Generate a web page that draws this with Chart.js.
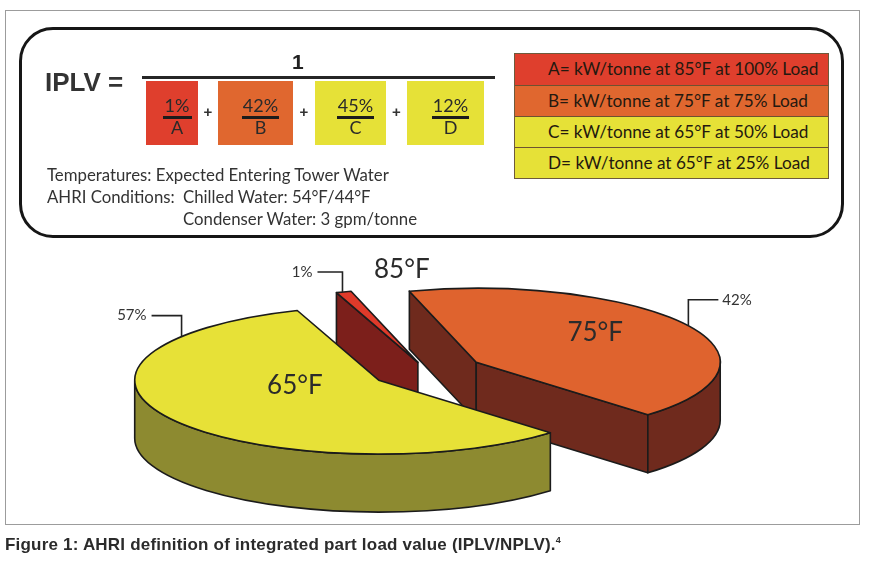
<!DOCTYPE html>
<html>
<head>
<meta charset="utf-8">
<script src="https://cdn.jsdelivr.net/npm/chart.js@4.4.1/dist/chart.umd.min.js"></script>
<style>
  html, body { margin: 0; padding: 0; background: #fff; }
  body { width: 874px; height: 561px; position: relative; overflow: hidden;
         font-family: Lato, "Open Sans", sans-serif; color: #353535; }
  .abs { position: absolute; }
  #frame { left: 5px; top: 10px; width: 853px; height: 513px; border: 1.5px solid #9c9c9c; }
  #pie { position: absolute; left: 0; top: 0; }
  #box { left: 19px; top: 27px; width: 819px; height: 205px; border: 3.5px solid #161616; border-radius: 34px; }
  #iplv { left: 45px; top: 67px; font: bold 26px "Liberation Sans", Arial, sans-serif; color: #333; line-height: 30px; }
  #one { left: 292px; top: 50px; font: bold 21px "Liberation Sans", Arial, sans-serif; color: #222; line-height: 24px; }
  #bar { left: 142px; top: 76px; width: 353px; height: 2.5px; background: #262626; }
  .term { top: 81px; height: 64px; }
  .term .num, .term .den { position: absolute; left: 10px; right: 0; text-align: center;
         font-size: 18px; line-height: 18px; color: #2a2a2a; }
  .term .num { top: 15px; }
  .term .den { top: 37px; }
  .term .rule { position: absolute; top: 35px; height: 2.5px; background: #1c1c1c; }
  .plus { top: 103px; font: bold 15px "Liberation Sans", Arial, sans-serif; color: #333; }
  #legendTable { left: 514px; top: 53px; width: 313px; border: 1px solid #6e5a3c; }
  .row { height: 31px; box-sizing: border-box; border-top: 1.5px solid #6e5230; padding-left: 33px;
         font-size: 17.2px; line-height: 30px; color: #24190f; white-space: nowrap; }
  .row:first-child { border-top: none; }
  .cond { left: 47px; font-size: 16.8px; line-height: 20px; color: #333; white-space: nowrap; }
  .cond .lab { display: inline-block; width: 136px; }
  #caption { left: 5px; top: 535px; font: bold 17px "Liberation Sans", Arial, sans-serif; letter-spacing: 0.2px;
             color: #2b2b2b; white-space: nowrap; }
  #caption sup { font-size: 9px; vertical-align: 7px; }
</style>
</head>
<body>
<div id="frame" class="abs"></div>
<canvas id="pie" width="874" height="561"></canvas>
<div id="box" class="abs"></div>
<div id="iplv" class="abs">IPLV =</div>
<div id="one" class="abs">1</div>
<div id="bar" class="abs"></div>
<div id="terms"></div>
<div id="legendTable" class="abs"></div>
<div class="abs cond" style="top:165px">Temperatures: Expected Entering Tower Water</div>
<div class="abs cond" style="top:187px"><span class="lab">AHRI Conditions:</span>Chilled Water: 54°F/44°F</div>
<div class="abs cond" style="top:209px"><span class="lab"></span>Condenser Water: 3 gpm/tonne</div>
<div id="caption" class="abs">Figure 1: AHRI definition of integrated part load value (IPLV/NPLV).<sup>4</sup></div>

<script>
// pie slices
const sliceLabels = ['85°F', '75°F', '65°F'];
const sliceShares = [1, 42, 57];

// IPLV formula terms and the A-D table
const loadLetters = ['A', 'B', 'C', 'D'];
const loadWeights = [1, 42, 45, 12];
const loadTemps = ['85°F', '75°F', '65°F', '65°F'];
const loadPercents = [100, 75, 50, 25];

// look
const termColors = ['#df3f2d', '#e0672f', '#e6e137', '#e6e137'];
const termBoxes = [[146, 52], [218, 75], [315, 71], [407, 77]]; // left, width
const topColors = ['#df3a2a', '#df632e', '#e7e137'];
const sideColors = ['#7c1f1b', '#6f2a1d', '#8d8a30'];
const TILT = 0.303;          // ry / rx of the pie top
const DEPTH = 58;            // thickness of the pie
const EXPLODE = [30, 57, 57];
const EDGE = '#1b1b1b';
// label anchors per slice: [angle deg, radius fraction]
const NAME_POS = [[-93, 1.26], [-39.7, 0.634], [168.8, 0.35]];
// share leaders: [angle deg on rim, rise, run]
const LEADERS = [[-108, -20, -25], [-29.6, -26, 30], [-143.9, -21, -30]];

// formula boxes
const terms = document.getElementById('terms');
loadLetters.forEach((l, i) => {
  const [left, w] = termBoxes[i];
  const t = document.createElement('div');
  t.className = 'abs term';
  t.style.left = left + 'px';
  t.style.width = w + 'px';
  t.style.background = termColors[i];
  const ruleW = i === 0 ? 29 : 37;
  t.innerHTML = `<div class="num">${loadWeights[i]}%</div>` +
    `<div class="rule" style="left:${(w - ruleW) / 2 + 5}px;width:${ruleW}px"></div>` +
    `<div class="den">${l}</div>`;
  terms.appendChild(t);
  if (i > 0) {
    const p = document.createElement('div');
    p.className = 'abs plus';
    p.textContent = '+';
    const prev = termBoxes[i - 1];
    p.style.left = ((prev[0] + prev[1] + left) / 2 - 4.5) + 'px';
    terms.appendChild(p);
  }
});

const table = document.getElementById('legendTable');
loadLetters.forEach((l, i) => {
  const r = document.createElement('div');
  r.className = 'row';
  r.style.background = termColors[i];
  r.textContent = `${l}= kW/tonne at ${loadTemps[i]} at ${loadPercents[i]}% Load`;
  table.appendChild(r);
});

function sliceGeom(arc, i) {
  const p = arc.getProps(['x', 'y', 'startAngle', 'endAngle', 'outerRadius'], true);
  const mid = (p.startAngle + p.endAngle) / 2;
  return {
    x: p.x, y: p.y,
    cx: p.x + Math.cos(mid) * EXPLODE[i],
    cy: p.y + Math.sin(mid) * EXPLODE[i] * TILT,
    rx: p.outerRadius, ry: p.outerRadius * TILT,
    s: p.startAngle, e: p.endAngle
  };
}

function drawSides(ctx, g, color) {
  const { cx, cy, rx, ry, s, e } = g;
  const pt = (a, dy) => [cx + rx * Math.cos(a), cy + ry * Math.sin(a) + dy];
  ctx.fillStyle = color;
  ctx.strokeStyle = EDGE;
  ctx.lineWidth = 1.6;
  ctx.lineJoin = 'round';
  const face = a => {
    ctx.beginPath();
    ctx.moveTo(cx, cy);
    ctx.lineTo(...pt(a, 0));
    ctx.lineTo(...pt(a, DEPTH));
    ctx.lineTo(cx, cy + DEPTH);
    ctx.closePath();
    ctx.fill();
    ctx.stroke();
  };
  if (Math.cos(s) < 0) face(s);
  if (Math.cos(e) > 0) face(e);
  // curved rim, only the half that faces the viewer
  for (let k = -1; k <= 2; k++) {
    const a = Math.max(s, 2 * Math.PI * k);
    const b = Math.min(e, 2 * Math.PI * k + Math.PI);
    if (b <= a) continue;
    ctx.beginPath();
    ctx.ellipse(cx, cy, rx, ry, 0, a, b);
    ctx.lineTo(...pt(b, DEPTH));
    ctx.ellipse(cx, cy + DEPTH, rx, ry, 0, b, a, true);
    ctx.closePath();
    ctx.fill();
    ctx.stroke();
  }
}

const pie3d = {
  id: 'pie3d',
  beforeDatasetDraw(chart, args) {
    const ctx = chart.ctx;
    args.meta.data.forEach((arc, i) => {
      const g = sliceGeom(arc, i);
      ctx.save();
      drawSides(ctx, g, sideColors[i]);
      ctx.restore();
      // top face: the library's arc, squashed into an ellipse
      ctx.save();
      ctx.translate(g.cx, g.cy);
      ctx.scale(1, TILT);
      ctx.translate(-g.x, -g.y);
      arc.draw(ctx);
      ctx.restore();
      ctx.save();
      ctx.beginPath();
      ctx.moveTo(g.cx, g.cy);
      ctx.ellipse(g.cx, g.cy, g.rx, g.ry, 0, g.s, g.e);
      ctx.closePath();
      ctx.strokeStyle = EDGE;
      ctx.lineWidth = 1.6;
      ctx.lineJoin = 'round';
      ctx.stroke();
      ctx.restore();
    });
    return false;
  },
  afterDatasetsDraw(chart) {
    const ctx = chart.ctx;
    const meta = chart.getDatasetMeta(0);
    const values = chart.data.datasets[0].data;
    meta.data.forEach((arc, i) => {
      const g = sliceGeom(arc, i);
      const at = (deg, f) => {
        const a = deg * Math.PI / 180;
        return [g.cx + Math.cos(a) * g.rx * f, g.cy + Math.sin(a) * g.ry * f];
      };
      ctx.save();
      const [tx, ty] = at(...NAME_POS[i]);
      ctx.font = '26px Lato';
      ctx.fillStyle = '#2b2b2b';
      ctx.textAlign = 'center';
      ctx.textBaseline = 'middle';
      ctx.fillText(chart.data.labels[i], tx, ty);

      const [ang, rise, run] = LEADERS[i];
      const [lx, ly] = at(ang, 1);
      ctx.beginPath();
      ctx.moveTo(lx, ly);
      ctx.lineTo(lx, ly + rise);
      ctx.lineTo(lx + run, ly + rise);
      ctx.strokeStyle = '#222';
      ctx.lineWidth = 1.6;
      ctx.stroke();
      ctx.font = '15px Lato';
      ctx.fillStyle = '#333';
      ctx.textAlign = run < 0 ? 'right' : 'left';
      ctx.fillText(values[i] + '%', lx + run + (run < 0 ? -5 : 4), ly + rise);
      ctx.restore();
    });
  }
};

new Chart(document.getElementById('pie'), {
  type: 'pie',
  data: {
    labels: sliceLabels,
    datasets: [{
      data: sliceShares,
      backgroundColor: topColors,
      borderWidth: 0,
      clip: false
    }]
  },
  options: {
    responsive: false,
    animation: false,
    events: [],
    rotation: -19.5,
    radius: 244,
    layout: { padding: { left: 0, right: 20, top: 181, bottom: 0 } },
    plugins: { legend: { display: false }, tooltip: { enabled: false } }
  },
  plugins: [pie3d]
});
</script>
</body>
</html>
